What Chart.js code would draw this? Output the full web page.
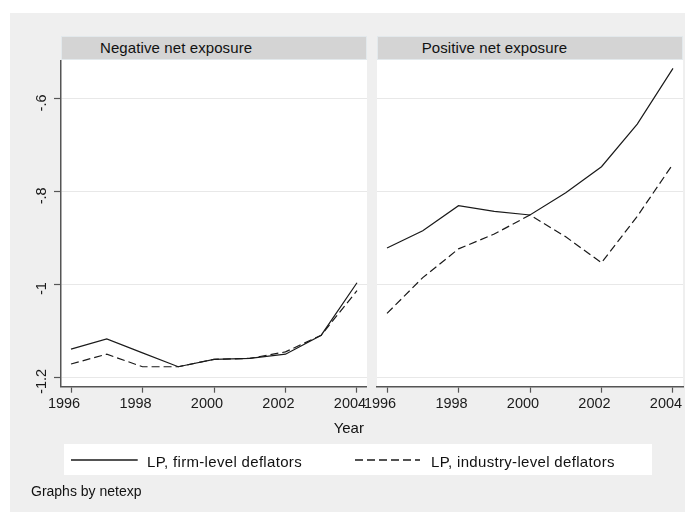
<!DOCTYPE html>
<html>
<head>
<meta charset="utf-8">
<script src="https://cdn.jsdelivr.net/npm/chart.js@4/dist/chart.umd.min.js"></script>
<style>
  html, body { margin: 0; padding: 0; background: #ffffff; }
  body { width: 696px; height: 513px; position: relative; overflow: hidden;
         font-family: "Liberation Sans", Arial, sans-serif; color: #111; }
  .abs { position: absolute; }
  #frame { left: 10px; top: 13px; width: 675px; height: 499px; background: #efefef; }
  .plotbg { background: #ffffff; }
  .strip { background: #d4d4d4; box-sizing: border-box; border: 1px solid #e3e9ec; }
  .striptext { font-size: 15px; line-height: 15px; white-space: nowrap; letter-spacing: 0.1px; }
  #legendbox { left: 64px; top: 444px; width: 588px; height: 31px; background: #ffffff; }
  .legtext { font-size: 15px; line-height: 15px; white-space: nowrap; top: 454px; letter-spacing: 0.32px; }
  #xtitle { left: 300px; width: 97.6px; top: 420px; font-size: 15px; line-height: 15px; text-align: center; }
  #note { left: 31px; top: 484px; font-size: 14px; line-height: 14px; white-space: nowrap; }
  canvas { position: absolute; }
</style>
</head>
<body>
<div id="frame" class="abs"></div>
<div class="abs plotbg" style="left:61px;top:60px;width:305.7px;height:326.7px"></div>
<div class="abs plotbg" style="left:377px;top:60px;width:306.3px;height:326.7px"></div>
<div class="abs strip" style="left:61px;top:36px;width:305.7px;height:24px"></div>
<div class="abs strip" style="left:377px;top:36px;width:306.3px;height:24px"></div>
<div class="abs striptext" id="title0" style="left:100px;top:39.5px"></div>
<div class="abs striptext" id="title1" style="left:421.7px;top:39.5px"></div>

<canvas id="left" width="357" height="360" style="left:10px;top:60px"></canvas>
<canvas id="right" width="346" height="360" style="left:347px;top:60px"></canvas>

<div id="xtitle" class="abs"></div>
<div id="legendbox" class="abs"></div>
<svg class="abs" style="left:0;top:0" width="696" height="513">
  <line x1="71" y1="460" x2="137.7" y2="460" stroke="#1a1a1a" stroke-width="1.4"/>
  <line x1="355" y1="460" x2="420" y2="460" stroke="#1a1a1a" stroke-width="1.4" stroke-dasharray="8,4"/>
</svg>
<div class="abs legtext" id="leg0" style="left:147px"></div>
<div class="abs legtext" id="leg1" style="left:431px"></div>
<div id="note" class="abs"></div>

<script>
// Panel titles, series names and axis text
const panelTitles = ["Negative net exposure", "Positive net exposure"];
const seriesNames = ["LP, firm-level deflators", "LP, industry-level deflators"];
const xAxisTitle = "Year";
const byNote = "Graphs by netexp";

// Years on the horizontal axis
const years = [1996, 1997, 1998, 1999, 2000, 2001, 2002, 2003, 2004];

// Negative net exposure panel
const negFirm     = [-1.139, -1.117, -1.147, -1.177, -1.161, -1.159, -1.150, -1.109, -0.996];
const negIndustry = [-1.171, -1.150, -1.177, -1.177, -1.161, -1.159, -1.145, -1.109, -1.013];

// Positive net exposure panel
const posFirm     = [-0.921, -0.884, -0.830, -0.842, -0.850, -0.802, -0.746, -0.654, -0.534];
const posIndustry = [-1.062, -0.985, -0.923, -0.891, -0.850, -0.897, -0.953, -0.853, -0.740];

// Tick values and their labels
const xTicks = [1996, 1998, 2000, 2002, 2004];
const xTickLabels = ["1996", "1998", "2000", "2002", "2004"];
const yTicks = [-0.6, -0.8, -1.0, -1.2];
const yTickLabels = ["-.6", "-.8", "-1", "-1.2"];

document.getElementById("title0").textContent = panelTitles[0];
document.getElementById("title1").textContent = panelTitles[1];
document.getElementById("leg0").textContent = seriesNames[0];
document.getElementById("leg1").textContent = seriesNames[1];
document.getElementById("xtitle").textContent = xAxisTitle;
document.getElementById("note").textContent = byNote;

const FONT = '"Liberation Sans", Arial, sans-serif';
const AXIS = "#555555";
const GRID = "#e8e8e8";
const INK = "#1a1a1a";

function points(vals) {
  return years.map((y, i) => ({ x: y, y: vals[i] }));
}

// No extra padding from label overhang: the plot area fills the panel exactly
function noPad(s) {
  s.paddingTop = 0; s.paddingBottom = 0; s.paddingLeft = 0; s.paddingRight = 0;
}

function buildChart(id, firm, industry, showY) {
  return new Chart(document.getElementById(id), {
    type: "line",
    data: {
      datasets: [
        { label: seriesNames[0], data: points(firm), borderColor: INK, borderWidth: 1.2,
          pointRadius: 0, tension: 0, fill: false },
        { label: seriesNames[1], data: points(industry), borderColor: INK, borderWidth: 1.2,
          borderDash: [8, 4], pointRadius: 0, tension: 0, fill: false }
      ]
    },
    options: {
      responsive: false,
      animation: false,
      events: [],
      layout: { autoPadding: false, padding: { left: 0, right: showY ? 0 : 10, top: 0, bottom: 0 } },
      plugins: { legend: { display: false }, tooltip: { enabled: false } },
      scales: {
        x: {
          type: "linear",
          min: 1995.72,
          max: 2004.28,
          afterBuildTicks: s => { s.ticks = xTicks.map(v => ({ value: v })); },
          afterFit: s => { s.height = 33.3; noPad(s); },
          border: { display: true, color: AXIS, width: 1.5 },
          grid: { drawOnChartArea: false, drawTicks: true, tickLength: 6, tickColor: AXIS, tickWidth: 1.2 },
          ticks: {
            autoSkip: false,
            maxRotation: 0,
            padding: 3,
            labelOffset: -7,
            color: INK,
            font: { family: FONT, size: 14.5 },
            callback: v => xTickLabels[xTicks.indexOf(v)]
          }
        },
        y: {
          type: "linear",
          min: -1.22,
          max: -0.516,
          afterBuildTicks: s => { s.ticks = yTicks.map(v => ({ value: v })); },
          afterFit: s => { s.width = showY ? 51 : 30; noPad(s); },
          border: { display: showY, color: AXIS, width: 1.5 },
          grid: { color: GRID, lineWidth: 1, drawTicks: showY, tickLength: 7, tickColor: AXIS, tickWidth: 1.2 },
          ticks: {
            display: showY,
            autoSkip: false,
            minRotation: 90,
            maxRotation: 90,
            crossAlign: "center",
            padding: 0,
            labelOffset: 4,
            color: INK,
            font: { family: FONT, size: 14.5 },
            callback: v => {
              const i = yTicks.findIndex(t => Math.abs(t - v) < 1e-9);
              return i >= 0 ? yTickLabels[i] : "";
            }
          }
        }
      }
    }
  });
}

buildChart("left", negFirm, negIndustry, true);
buildChart("right", posFirm, posIndustry, false);
</script>
</body>
</html>
